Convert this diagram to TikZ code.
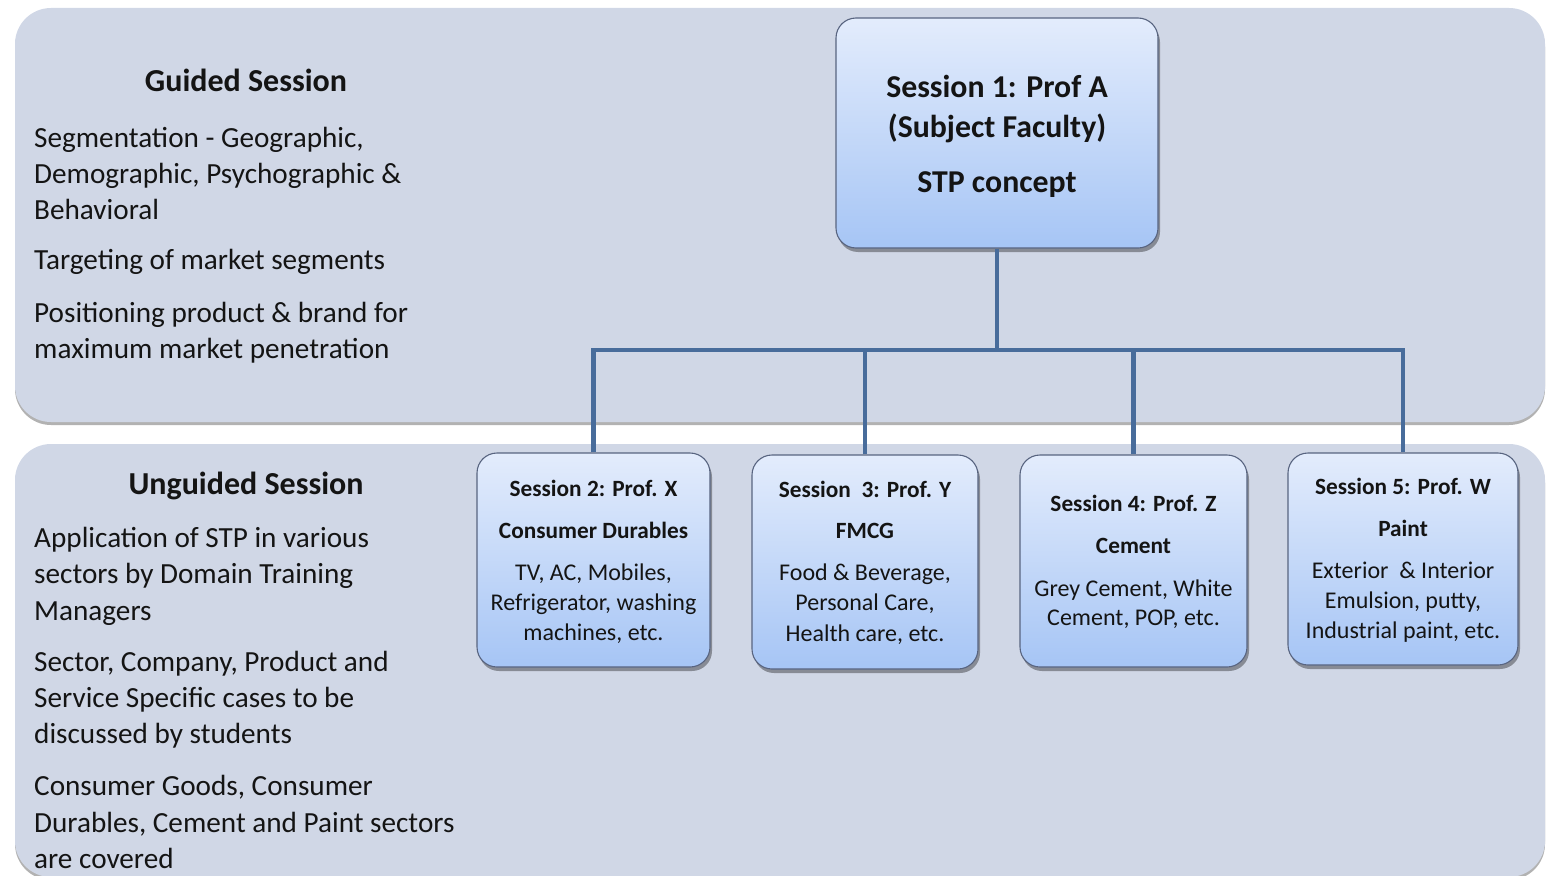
\documentclass[tikz,border=0pt]{standalone}
\usepackage{fontspec}
\setmainfont{Carlito}
\usetikzlibrary{shadows}

\definecolor{panelc}{RGB}{208,215,230}
\definecolor{boxtop}{RGB}{227,236,252}
\definecolor{boxbot}{RGB}{166,197,245}
\definecolor{boxline}{RGB}{88,100,128}
\definecolor{connc}{RGB}{72,108,155}
\definecolor{ink}{RGB}{20,20,20}

\tikzset{
  panel/.style={fill=panelc, rounded corners=36pt,
    drop shadow={shadow xshift=0pt, shadow yshift=-3pt, fill=black, opacity=0.30}},
  sbox/.style={draw=boxline, line width=1.1pt, rounded corners=20pt,
    top color=boxtop, bottom color=boxbot, inner sep=0pt,
    drop shadow={shadow xshift=2pt, shadow yshift=-4pt, fill=black, opacity=0.35}},
  conn/.style={draw=connc, line width=4.5pt},
  head/.style={anchor=base, text=ink, font=\fontsize{32}{38}\selectfont\bfseries, inner sep=0pt},
  body/.style={anchor=base west, text=ink, font=\fontsize{29.2}{35}\selectfont, inner sep=0pt},
  tophead/.style={anchor=base, text=ink, font=\fontsize{31.8}{38}\selectfont\bfseries, inner sep=0pt},
  bhead/.style={anchor=base, text=ink, font=\fontsize{23.3}{28}\selectfont\bfseries, inner sep=0pt},
  btext/.style={anchor=base, text=ink, font=\fontsize{24}{29}\selectfont, inner sep=0pt},
}

\begin{document}
\begin{tikzpicture}[x=1pt, y=-1pt]
\useasboundingbox (0,0) rectangle (1546,875);
\clip (0,0) rectangle (1546,875);

% background panels
\path[panel] (15,8) rectangle (1545,422);
\path[panel] (15,444) rectangle (1545,877);

% guided session text
\node[head] (gtitle) at (246,92) {Guided Session};
\node[body] (g1) at (34,147) {Segmentation - Geographic,};
\node[body] (g2) at (34,183) {Demographic, Psychographic \&};
\node[body] (g3) at (34,219) {Behavioral};
\node[body] (g4) at (34,269) {Targeting of market segments};
\node[body] (g5) at (34,322) {Positioning product \& brand for};
\node[body] (g6) at (34,358) {maximum market penetration};

% unguided session text
\node[head] (utitle) at (246,494) {Unguided Session};
\node[body] (u1) at (34,547) {Application of STP in various};
\node[body] (u2) at (34,583) {sectors by Domain Training};
\node[body] (u3) at (34,620) {Managers};
\node[body] (u4) at (34,671) {Sector, Company, Product and};
\node[body] (u5) at (34,707) {Service Specific cases to be};
\node[body] (u6) at (34,743) {discussed by students};
\node[body] (u7) at (34,795) {Consumer Goods, Consumer};
\node[body] (u8) at (34,832) {Durables, Cement and Paint sectors};
\node[body] (u9) at (34,868) {are covered};

% session boxes
\node[sbox, minimum width=322pt, minimum height=230pt] (s1) at (997,133) {};
\node[sbox, minimum width=233pt, minimum height=214pt] (s2) at (593.5,560) {};
\node[sbox, minimum width=226pt, minimum height=214pt] (s3) at (865,562) {};
\node[sbox, minimum width=227pt, minimum height=212pt] (s4) at (1133.5,561) {};
\node[sbox, minimum width=230pt, minimum height=212pt] (s5) at (1403,559) {};

% connectors
\coordinate (bus) at (997,350);
\draw[conn] (s1.south) -- (bus);
\draw[conn] (s2.north) |- (s5.north |- bus) -- (s5.north);
\draw[conn] (s3.north) -- (s3.north |- bus);
\draw[conn] (s4.north) -- (s4.north |- bus);

% box texts
\node[tophead] (s1a) at (997,97) {Session 1: Prof A};
\node[tophead] (s1b) at (997,137) {(Subject Faculty)};
\node[tophead] (s1c) at (997,192) {STP concept};

\node[bhead] (s2a) at (593.5,496) {Session 2: Prof. X};
\node[bhead] (s2b) at (593.5,538) {Consumer Durables};
\node[btext] (s2c) at (593.5,580) {TV, AC, Mobiles,};
\node[btext] (s2d) at (593.5,610) {Refrigerator, washing};
\node[btext] (s2e) at (593.5,640) {machines, etc.};

\node[bhead] (s3a) at (865,497) {Session\ \ 3: Prof. Y};
\node[bhead] (s3b) at (865,538) {FMCG};
\node[btext] (s3c) at (865,580) {Food \& Beverage,};
\node[btext] (s3d) at (865,610) {Personal Care,};
\node[btext] (s3e) at (865,641) {Health care, etc.};

\node[bhead] (s4a) at (1133.5,511) {Session 4: Prof. Z};
\node[bhead] (s4b) at (1133.5,553) {Cement};
\node[btext] (s4c) at (1133.5,596) {Grey Cement, White};
\node[btext] (s4d) at (1133.5,625) {Cement, POP, etc.};

\node[bhead] (s5a) at (1403,494) {Session 5: Prof. W};
\node[bhead] (s5b) at (1403,536) {Paint};
\node[btext] (s5c) at (1403,578) {Exterior\ \ \& Interior};
\node[btext] (s5d) at (1403,608) {Emulsion, putty,};
\node[btext] (s5e) at (1403,638) {Industrial paint, etc.};
\end{tikzpicture}
\end{document}
